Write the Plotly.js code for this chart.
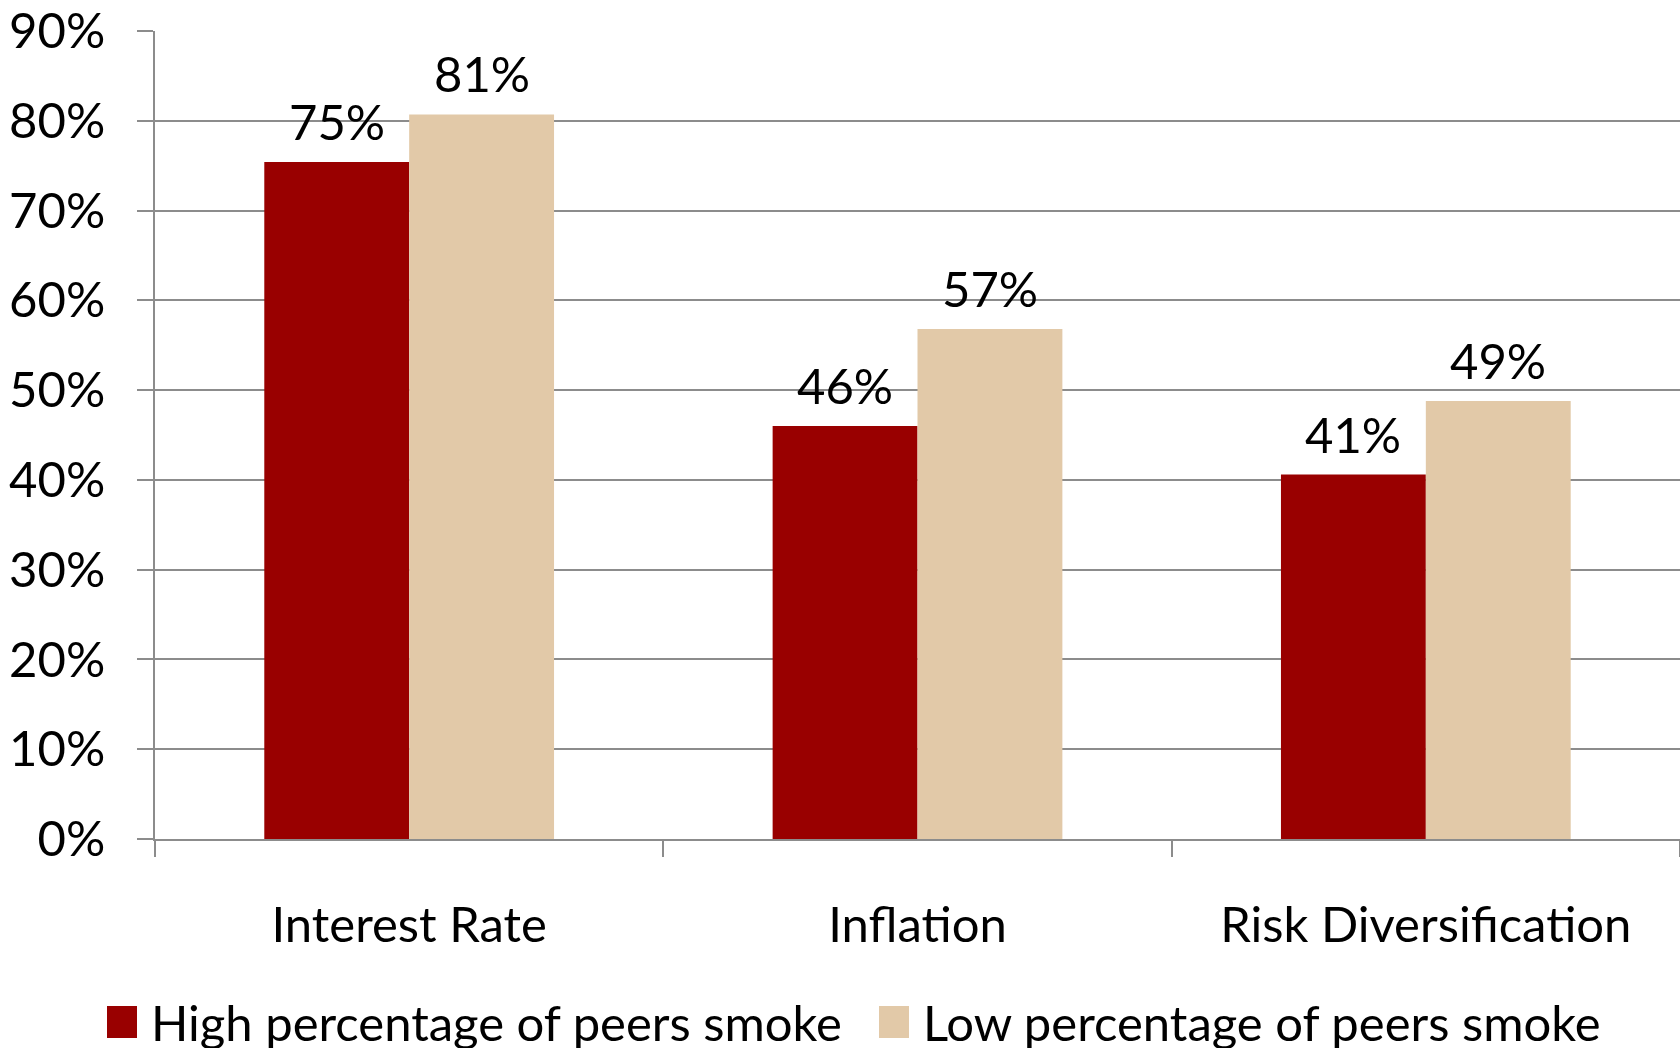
<!DOCTYPE html>
<html>
<head>
<meta charset="utf-8">
<script src="https://cdn.plot.ly/plotly-3.0.1.min.js"></script>
<style>
  html, body { margin: 0; padding: 0; background: #fff; }
  #chart { width: 1680px; height: 1048px; }
</style>
</head>
<body>
<div id="chart"></div>
<script>
// Financial-literacy questions answered correctly, by peer smoking group
const categories = ['Interest Rate', 'Inflation', 'Risk Diversification'];
const seriesNames = ['High percentage of peers smoke', 'Low percentage of peers smoke'];
const highPeers = [0.754, 0.460, 0.406];
const lowPeers = [0.807, 0.568, 0.488];
const yTickVals = [0, 0.1, 0.2, 0.3, 0.4, 0.5, 0.6, 0.7, 0.8, 0.9];
const yTickText = ['0%', '10%', '20%', '30%', '40%', '50%', '60%', '70%', '80%', '90%'];

const colors = ['#990000', '#E2C9A8'];
const FONT = 'Lato, "Open Sans", sans-serif';
const FS = 49;
const BARGAP = 0.43;
const half = (1 - BARGAP) / 4; // centre offset of each bar inside a group

const seriesValues = [highPeers, lowPeers];

const traces = seriesValues.map((vals, s) => ({
  type: 'bar',
  name: seriesNames[s],
  x: categories,
  y: vals,
  marker: { color: colors[s], line: { width: 0 } },
  showlegend: false,
  hoverinfo: 'skip'
}));

// value labels above each bar
const annotations = [];
seriesValues.forEach((vals, s) => {
  vals.forEach((v, i) => {
    annotations.push({
      xref: 'x', yref: 'y',
      x: i + (s === 0 ? -half : half),
      y: v,
      text: Math.round(v * 100) + '%',
      showarrow: false,
      xanchor: 'center', yanchor: 'bottom',
      yshift: 10,
      font: { family: FONT, size: FS, color: '#000' }
    });
  });
});

// legend drawn beneath the axis
const plotL = 155, plotW = 1680 - 155, plotH = 808;
const px = X => (X - plotL) / plotW;   // page x -> paper fraction
const py = Y => (839 - Y) / plotH;     // page y -> paper fraction
const legendCentre = 1022;
const legendStarts = [107, 879];
const shapes = [];
legendStarts.forEach((x0, s) => {
  shapes.push({
    type: 'rect', xref: 'paper', yref: 'paper',
    x0: px(x0), x1: px(x0 + 30),
    y0: py(legendCentre + 16), y1: py(legendCentre - 16),
    fillcolor: colors[s], line: { width: 0 }
  });
  annotations.push({
    xref: 'paper', yref: 'paper',
    x: px(x0 + 42), y: py(legendCentre),
    text: seriesNames[s],
    showarrow: false,
    xanchor: 'left', yanchor: 'middle',
    font: { family: FONT, size: FS, color: '#000' }
  });
});

const axisGrey = '#8c8c8c';
const layout = {
  width: 1680,
  height: 1048,
  margin: { l: plotL, r: 0, t: 31, b: 209 },
  paper_bgcolor: '#fff',
  plot_bgcolor: '#fff',
  barmode: 'group',
  bargap: BARGAP,
  bargroupgap: 0,
  font: { family: FONT, color: '#000' },
  xaxis: {
    type: 'category',
    tickson: 'boundaries',
    ticks: 'outside',
    ticklen: 16,
    tickwidth: 2,
    tickcolor: axisGrey,
    showline: true,
    linecolor: axisGrey,
    linewidth: 2,
    showgrid: false,
    ticklabelstandoff: 42,
    tickfont: { family: FONT, size: FS, color: '#000' }
  },
  yaxis: {
    range: [0, 0.9],
    tickvals: yTickVals,
    ticktext: yTickText,
    ticks: 'outside',
    ticklen: 16,
    tickwidth: 2,
    tickcolor: axisGrey,
    showline: true,
    linecolor: axisGrey,
    linewidth: 2,
    showgrid: true,
    gridcolor: axisGrey,
    gridwidth: 2,
    zeroline: false,
    ticklabelstandoff: 22,
    ticklabeloverflow: 'allow',
    tickfont: { family: FONT, size: FS, color: '#000' }
  },
  annotations: annotations,
  shapes: shapes
};

Plotly.newPlot('chart', traces, layout, { displayModeBar: false, staticPlot: true });
</script>
</body>
</html>
